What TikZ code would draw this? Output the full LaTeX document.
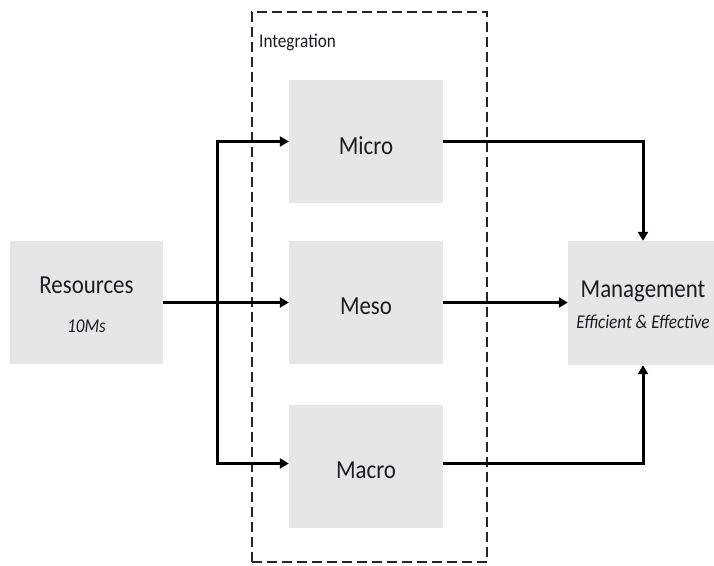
\documentclass[tikz,border=0pt]{standalone}
\usepackage{fontspec}
\setmainfont{Carlito}[FakeStretch=0.88]
\usetikzlibrary{arrows.meta}
\definecolor{boxgray}{RGB}{230,230,230}
\definecolor{txt}{RGB}{28,28,36}
\begin{document}
\begin{tikzpicture}[x=1pt,y=-1pt,
  box/.style={fill=boxgray,draw=none,inner sep=0pt,minimum width=154pt,minimum height=123pt},
  big/.style={text=txt,font=\fontsize{26}{30}\selectfont,anchor=base,inner sep=0pt},
  sub/.style={text=txt,font=\fontsize{19.5}{23}\selectfont\itshape,anchor=base,inner sep=0pt},
  arr/.style={line width=3pt,-{Triangle[length=9pt,width=10pt]}},
  conn/.style={line width=3pt}]
\useasboundingbox (0,0) rectangle (714,565);
\clip (0,0) rectangle (714,565);
\node[draw=black!85,line width=1.4pt,dash pattern=on 10pt off 5pt,minimum width=235pt,minimum height=550pt,inner sep=0pt] (integ) at (369.5,287) {};
\node[text=txt,font=\fontsize{19.5}{23}\selectfont,anchor=base west,inner sep=0pt] (integlbl) at (259,47) {Integration};
\node[box,minimum width=153pt] (res) at (86.5,302.5) {};
\node[box] (micro) at (366,141.5) {};
\node[box] (meso) at (366,302.5) {};
\node[box] (macro) at (366,466.5) {};
\node[box,minimum width=150pt,minimum height=124pt] (mgmt) at (643,303) {};
\node[big] (reslbl) at (86.5,293) {Resources};
\node[sub] (ressub) at (86.5,332) {10Ms};
\node[big] (microlbl) at (366,154) {Micro};
\node[big] (mesolbl) at (366,314.5) {Meso};
\node[big] (macrolbl) at (366,478) {Macro};
\node[big] (mgmtlbl) at (643,297) {Management};
\node[sub] (mgmtsub) at (643,328) {Efficient \& Effective};
\coordinate (br) at (217,302.5);
\draw[arr] (res.east) -- (meso.west);
\draw[arr] (br) |- (micro.west);
\draw[arr] (br) |- ([yshift=3pt]macro.west);
\draw[arr] (micro.east) -| (mgmt.north);
\draw[arr] (meso.east) -- (meso.east -| mgmt.west);
\draw[arr] ([yshift=3pt]macro.east) -| (mgmt.south);
\end{tikzpicture}
\end{document}
